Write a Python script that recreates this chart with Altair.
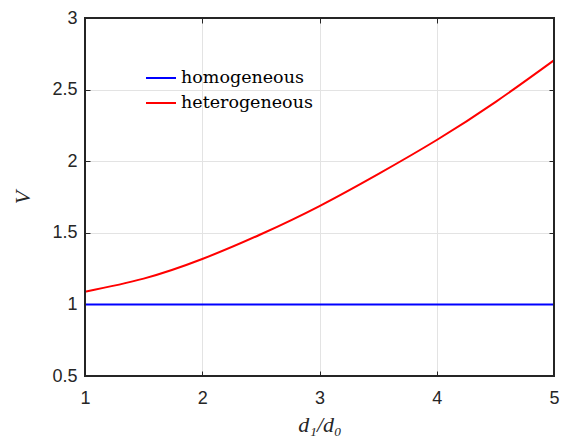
import altair as alt
import pandas as pd

# Ratio of diameters d1/d0 and the resulting V for both cases
ratio = [1.0, 1.5, 2.0, 2.5, 3.0, 3.5, 4.0, 4.5, 5.0]
v_homogeneous = [1.0, 1.0, 1.0, 1.0, 1.0, 1.0, 1.0, 1.0, 1.0]
v_heterogeneous = [1.089, 1.18, 1.317, 1.49, 1.687, 1.91, 2.148, 2.413, 2.705]

series_names = ["homogeneous", "heterogeneous"]
series_colors = ["#0000ff", "#ff0000"]

x_ticks = [1, 2, 3, 4, 5]
y_ticks = [0.5, 1, 1.5, 2, 2.5, 3]

rows = []
for name, vals in zip(series_names, [v_homogeneous, v_heterogeneous]):
    for r, v in zip(ratio, vals):
        rows.append({"ratio": r, "V": v, "series": name})
df = pd.DataFrame(rows)

W, H = 469, 358
TICK_FONT = "Liberation Sans"
SERIF = "Liberation Serif"
LEGEND_FONT = "DejaVu Serif"
INK = "#262626"
GRID = "#e3e3e3"
TL = 5  # tick length, drawn pointing into the plot


def hide_edge_grid(lo, hi):
    # no grid lines on the frame edges
    return {"condition": {"test": f"datum.value == {lo} || datum.value == {hi}", "value": 0},
            "value": 1}


xs = alt.Scale(domain=[1, 5], nice=False, zero=False)
ys = alt.Scale(domain=[0.5, 3], nice=False, zero=False)

lines = alt.Chart(df).mark_line(strokeWidth=2, interpolate="natural").encode(
    x=alt.X("ratio:Q", scale=xs, axis=alt.Axis(
        values=x_ticks, format="~g", title="d₁/d₀", orient="bottom", offset=-TL,
        domain=False, tickSize=TL, tickColor=INK, tickWidth=1,
        grid=True, gridColor=GRID, gridOpacity=hide_edge_grid(1, 5),
        labelFlush=False, labelOverlap=False,
        labelFont=TICK_FONT, labelFontSize=18, labelColor=INK, labelPadding=8 + TL,
        titleFont=SERIF, titleFontStyle="italic", titleFontWeight="normal",
        titleFontSize=22, titleColor=INK, titlePadding=7)),
    y=alt.Y("V:Q", scale=ys, axis=alt.Axis(
        values=y_ticks, format="~g", title="V", orient="left", offset=-TL,
        domain=False, tickSize=TL, tickColor=INK, tickWidth=1,
        grid=True, gridColor=GRID, gridOpacity=hide_edge_grid(0.5, 3),
        labelFlush=False, labelOverlap=False,
        labelFont=TICK_FONT, labelFontSize=18, labelColor=INK, labelPadding=3 + TL,
        titleFont=SERIF, titleFontStyle="italic", titleFontWeight="normal",
        titleFontSize=22, titleColor=INK, titlePadding=17)),
    color=alt.Color("series:N",
                    scale=alt.Scale(domain=series_names, range=series_colors),
                    legend=alt.Legend(
                        title=None, orient="none", legendX=60, legendY=44,
                        symbolType="stroke", symbolSize=900, symbolStrokeWidth=2,
                        labelFont=LEGEND_FONT, labelFontSize=17.5, labelColor="#000000",
                        labelOffset=4, rowPadding=-6)),
)

# mirrored tick marks along the top and right edges
mirror = alt.Chart(df).mark_line(opacity=0).encode(
    x=alt.X("ratio:Q", scale=xs, axis=alt.Axis(
        values=x_ticks, orient="top", offset=-TL, labels=False, domain=False,
        grid=False, tickSize=TL, tickColor=INK, tickWidth=1, title=None)),
    y=alt.Y("V:Q", scale=ys, axis=alt.Axis(
        values=y_ticks, orient="right", offset=-TL, labels=False, domain=False,
        grid=False, tickSize=TL, tickColor=INK, tickWidth=1, title=None)),
)

# dark box around the plot area
frame = alt.Chart(df).mark_rect(fill=None, stroke=INK, strokeWidth=1.3).encode(
    x=alt.value(0), x2=alt.value(W), y=alt.value(0), y2=alt.value(H)
)

chart = alt.layer(lines, mirror, frame).resolve_axis(
    x="independent", y="independent"
).properties(
    width=W, height=H,
    padding={"left": 85, "top": 18, "right": 7, "bottom": 63},
    autosize=alt.AutoSizeParams(type="none"),
).configure_view(
    stroke=None
)

chart.save("out.html", embed_options={"renderer": "svg", "actions": False})
